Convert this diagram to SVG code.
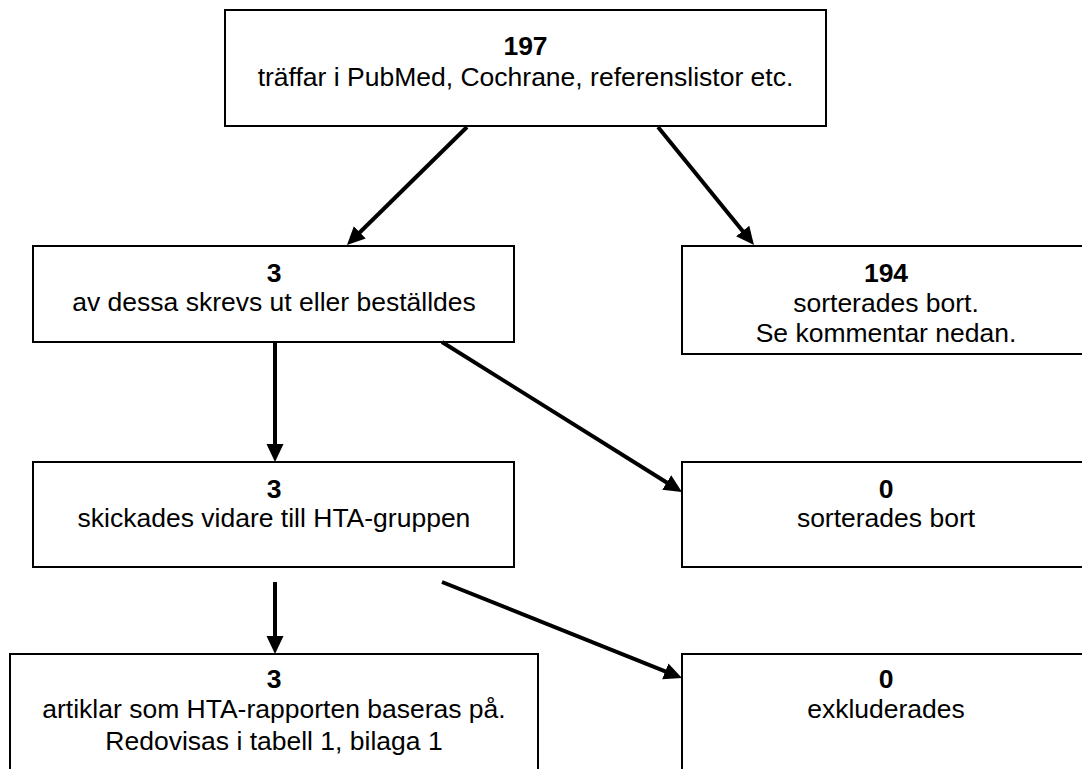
<svg xmlns="http://www.w3.org/2000/svg" width="1082" height="769" viewBox="0 0 1082 769">
<style>
.box{fill:#fff;stroke:#000;stroke-width:2}
.t{font-family:"Liberation Sans",Arial,sans-serif;font-size:26.5px;fill:#000;text-anchor:middle}
.b{font-weight:bold}
.c{stroke:#000;stroke-width:4;fill:none;marker-end:url(#ah)}
</style>
<defs>
<marker id="ah" markerUnits="userSpaceOnUse" markerWidth="18" markerHeight="18" refX="8" refY="9" orient="auto" viewBox="0 0 18 18">
<path d="M0,0.5 L18,9 L0,17.5 z" fill="#000"/>
</marker>
</defs>
<rect width="1082" height="769" fill="#fff"/>
<g id="n1">
<rect class="box" x="225" y="10" width="601" height="116"/>
<text class="t b" x="525.5" y="55">197</text>
<text class="t" x="525.5" y="86">träffar i PubMed, Cochrane, referenslistor etc.</text>
</g>
<g id="n2">
<rect class="box" x="33" y="246" width="481" height="96"/>
<text class="t b" x="274" y="282">3</text>
<text class="t" x="274" y="311">av dessa skrevs ut eller beställdes</text>
</g>
<g id="n3">
<rect class="box" x="682" y="246" width="410" height="108"/>
<text class="t b" x="886" y="282">194</text>
<text class="t" x="886" y="312">sorterades bort.</text>
<text class="t" x="886" y="342">Se kommentar nedan.</text>
</g>
<g id="n4">
<rect class="box" x="33" y="462" width="481" height="105"/>
<text class="t b" x="274" y="498">3</text>
<text class="t" x="274" y="527">skickades vidare till HTA-gruppen</text>
</g>
<g id="n5">
<rect class="box" x="682" y="462" width="410" height="105"/>
<text class="t b" x="886" y="498">0</text>
<text class="t" x="886" y="527">sorterades bort</text>
</g>
<g id="n6">
<rect class="box" x="10" y="654" width="528" height="130"/>
<text class="t b" x="274" y="688">3</text>
<text class="t" x="274" y="718">artiklar som HTA-rapporten baseras på.</text>
<text class="t" x="274" y="750">Redovisas i tabell 1, bilaga 1</text>
</g>
<g id="n7">
<rect class="box" x="682" y="654" width="410" height="130"/>
<text class="t b" x="886" y="688">0</text>
<text class="t" x="886" y="718">exkluderades</text>
</g>
<g id="connectors">
<line class="c" x1="467" y1="127" x2="354.1" y2="238.0"/>
<line class="c" x1="658" y1="127" x2="747.7" y2="237.2"/>
<line class="c" x1="275" y1="342" x2="275" y2="452"/>
<line class="c" x1="442" y1="342" x2="673.5" y2="486.7"/>
<line class="c" x1="275" y1="582" x2="275" y2="644"/>
<line class="c" x1="442" y1="582" x2="672.7" y2="674.3"/>
</g>
</svg>
